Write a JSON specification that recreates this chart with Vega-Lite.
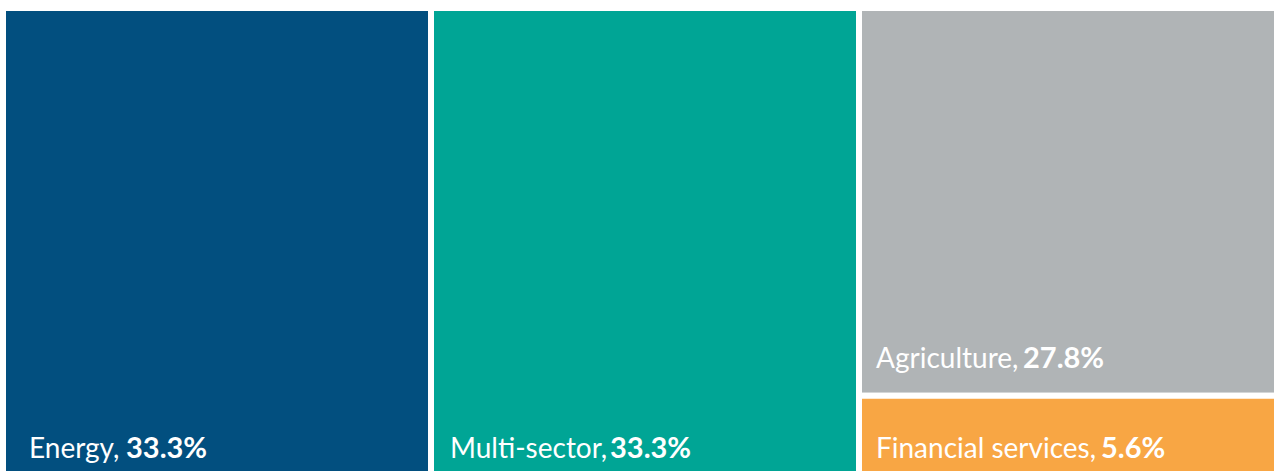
{
  "$schema": "https://vega.github.io/schema/vega-lite/v6.json",
  "width": 1274,
  "height": 471,
  "padding": 0,
  "autosize": {"type": "none"},
  "background": "white",
  "config": {"view": {"stroke": null}},
  "data": {
    "values": [
      {"sector": "Energy", "column": "Energy", "share": 0.333},
      {"sector": "Multi-sector", "column": "Multi-sector", "share": 0.333},
      {"sector": "Agriculture", "column": "Other", "share": 0.278},
      {"sector": "Financial services", "column": "Other", "share": 0.056}
    ]
  },
  "transform": [
    {"stack": "share", "groupby": ["column"], "sort": [{"field": "sector", "order": "descending"}], "offset": "normalize", "as": ["y0", "y1"]},
    {"calculate": "datum.sector + ','", "as": "label"}
  ],
  "encoding": {
    "x": {"field": "column", "type": "nominal", "sort": ["Energy", "Multi-sector", "Other"], "scale": {"range": [3, 1287], "paddingInner": 0, "paddingOuter": 0}, "axis": null}
  },
  "layer": [
    {
      "mark": {"type": "bar", "stroke": "white", "strokeWidth": 6, "clip": true},
      "encoding": {
        "y": {"field": "y1", "type": "quantitative", "scale": {"domain": [0, 1], "range": [474, 8], "nice": false, "zero": false}, "axis": null},
        "y2": {"field": "y0"},
        "color": {"field": "sector", "type": "nominal", "scale": {"domain": ["Energy", "Multi-sector", "Agriculture", "Financial services"], "range": ["#024F7F", "#00A595", "#B0B4B6", "#F8A644"]}, "legend": null}
      }
    },
    {
      "mark": {"type": "text", "align": "left", "baseline": "alphabetic", "color": "white", "font": "Lato", "fontSize": 28, "fontWeight": "normal",
        "dx": {"expr": "datum.sector === 'Energy' ? 26 : datum.sector === 'Multi-sector' ? 19 : 17"},
        "dy": {"expr": "datum.sector === 'Agriculture' ? -28 : -16"}},
      "encoding": {
        "x": {"field": "column", "type": "nominal", "sort": ["Energy", "Multi-sector", "Other"], "bandPosition": 0},
        "y": {"field": "y0", "type": "quantitative"},
        "text": {"field": "label"}
      }
    },
    {
      "mark": {"type": "text", "align": "left", "baseline": "alphabetic", "color": "white", "font": "Lato", "fontSize": 29, "fontWeight": "bold",
        "dx": {"expr": "datum.sector === 'Energy' ? 123 : datum.sector === 'Multi-sector' ? 179 : datum.sector === 'Agriculture' ? 164 : 242"},
        "dy": {"expr": "datum.sector === 'Agriculture' ? -28 : -16"}},
      "encoding": {
        "x": {"field": "column", "type": "nominal", "sort": ["Energy", "Multi-sector", "Other"], "bandPosition": 0},
        "y": {"field": "y0", "type": "quantitative"},
        "text": {"field": "share", "type": "quantitative", "format": ".1%"}
      }
    }
  ]
}
